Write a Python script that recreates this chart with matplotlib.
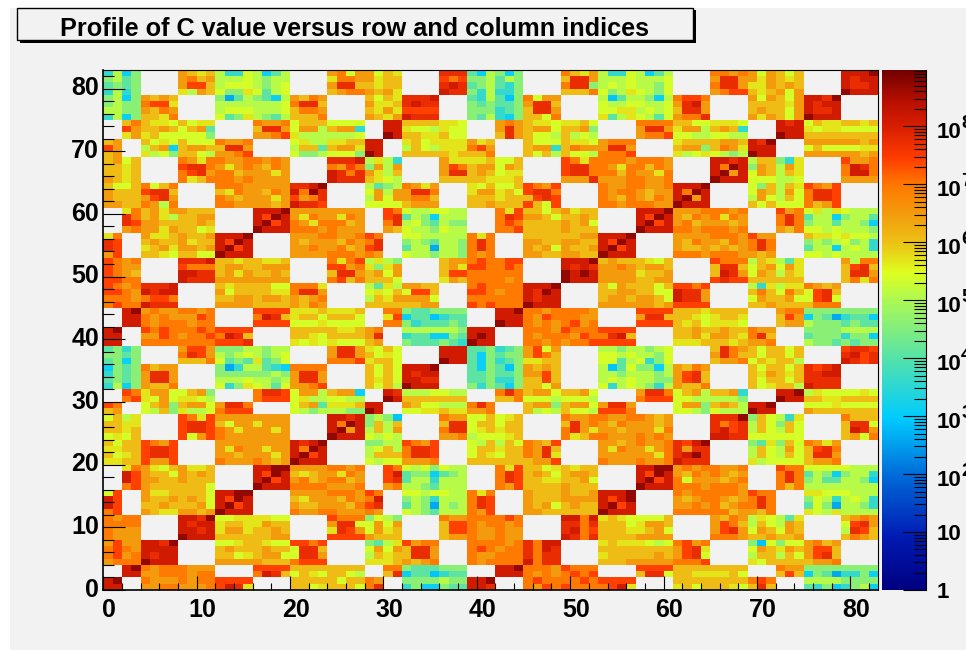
import numpy as np
import matplotlib
matplotlib.use('Agg')
import matplotlib.pyplot as plt
from matplotlib.colors import LinearSegmentedColormap, LogNorm
from matplotlib.patches import Rectangle
from matplotlib.ticker import FixedLocator, NullFormatter
from matplotlib.transforms import ScaledTranslation

plt.rcParams['font.family'] = ['Liberation Sans', 'DejaVu Sans']
plt.rcParams['font.weight'] = 'bold'

title = 'Profile of C value versus row and column indices'
n_bins = 83
z_min = 1.0
z_max = 9.5e8
x_ticks = [0, 10, 20, 30, 40, 50, 60, 70, 80]
y_ticks = [0, 10, 20, 30, 40, 50, 60, 70, 80]
bar_exponents = [2, 3, 4, 5, 6, 7, 8]

# colour levels: letter -> log10(C), '.' is an empty bin
level_chars = 'bacdefghijklmnop'
level_logs = [2.6, 2.9, 3.1, 3.6, 4.1, 4.6, 5.1, 5.4, 5.7, 6.05, 6.5, 6.95, 7.4, 7.75, 8.1, 8.7]

# one string per row, top row (82) first, spaces only separate the blocks
cell_rows = [
    'dgcf .... kjij gddh gceg .... klhk khji .... nnn ecg fcf .... ljik gddh gceg .... llkl khk jhj .... ooop',
    'fgef .... kljk gggh gfgg .... illk kijj .... mlm ffg egf .... jnnk gggh gggh .... knnk kik jij .... onoo',
    'efef .... kmmj ghhh gfgh .... knnj jijj .... non efg edf .... lnnf ghgh ggfh .... lnnk iik jkj .... onno',
    'dgdf .... igkj hffi hegh .... jkll kjki .... onn fdg ddf .... jjjl hfgi hgfh .... klmm jij khk .... pooo',
    'fgcf kjkj .... fbeg fecg kjlk .... jhji nnno ... edg eaf lhkk .... gaeg gfcg lmml .... khk jhk oonp ....',
    'fgff lmmi .... gggg gggh lnnj .... kiij nonn ... fef eef knnj .... hggh hggh knok .... jjj jik onoo ....',
    'ggff kjlk .... ghhh gggh jllk .... jiki mmmm ... fff def jnnk .... hhii ghgh jnnk .... jkj jhk onno ....',
    'dgcf jjil .... hefi gfeg jjjl .... kjik onnn ... feg dcf jjhl .... iegi hgeh klln .... kik jhk pooo ....',
    '..jl jiih jhii .... lkkl hjjj hhhh ..oo jjjj iih ... klk jiih iijh .... llll jjhh iiih ... ono hjii jjij',
    '..mk jjkj hjke .... jnnk hkkg jkkd ..oo ihhg ihh ... knk jkkh jjkf .... knnk ikkg jkjd ... ooo ihii hhhh',
    '..ik ijhh hhhf .... kklm iggg gggh ..po jjii jhh ... jnk jhhg jghg .... kllm hhgg hhgg ... poo jjjj jjjj',
    'jk.. jhih jhhh lkkl .... higg iijj oo.. ijhi iii kij ... jhhh jiih klll .... ijjj jkkj onp ... kkkk kkjk',
    'mk.. gjkc jkkj jnnk .... gjje jkki oo.. gjhg iii lmk ... jkkd jlkk knnk .... jkkf jlki ooo ... hjhh hhii',
    'jk.. ighf jjhg kklm .... hffg hhhf po.. jjjj jij jjl ... jhjg jhhg lllm .... ighi hgfg poo ... kkkk kkjk',
    'jkhj .... lkil lkkl lklk .... nnno gigd .... kii iij hhj .... mlil lllk lllk .... oono gjj fdi .... mkkl',
    'jjij .... mnnl kikl kjlk .... lkml fkgk .... kml jkk hkj .... mnnl lkil ljlk .... olpo fkj gki .... lonl',
    'jjij .... lmnk lljk kkik .... onln kigj .... knn jkj hii .... mnnl lljl kkil .... opko hkj gji .... lool',
    'kjij .... lijl llkl kkkk .... onnn jihg .... jjj jji iij .... kkkn kkkl lkkl .... pooo hhh ggh .... kkkk',
    'jhhj lhjl .... lllk kkkk nnop .... gefg lkik ... ihj hhj mlkm .... lkkl lkkl ooop .... hfj gji mlkm ....',
    'kjjj mnnj .... jilk kjlk olpn .... hkgk knnl ... ikk ijh mnnl .... lkll kjkk olpo .... hkj gkh lnnm ....',
    'kjjj kmnk .... lkjk kkik mkln .... gkhk kllj ... jjj ijj jmnm .... lkjl kjlk opko .... gkh gjh lnnm ....',
    'kkjj lkgl .... llkk kkjk onnm .... hhhh jkkk ... jjk jjj mjhm .... llkl llkk pooo .... jhj hhh ljkm ....',
    '..il jkik kjjj .... ooop kkkk kkkk ..ml hggh hgg ... lim jjhj kijj .... ooop kkkl llkl ... mkl higi hggg',
    '..nl jkig jjkk .... ompo kilk kilk ..mn egfc ggg ... lnm kkjh jjkj .... ompo kjlk lilk ... lnl eggc fgge',
    '..nm kkjj jjkj .... opmo lkil lljk ..ln ghfe gff ... lml jjjj kjkh .... opmo kljk kkjk ... lnl fgge ggfc',
    '..kl kkik jjhi .... pooo lllk lkkk ..kj hggf hgg ... llm jjjj kjjj .... pooo llkl llkl ... kjl hhgh gggf',
    'il.. kiij kjjk ooop .... kkkl lkkl ml.. hhgg ggg lil ... jjjj jjkk ooop .... kkkk lllk mkk ... jiih ihhg',
    'nm.. jkjj kijj ompo .... kjkk kjlk ln.. fgfe ggf lnl ... kkjj kkjj ompo .... kjlk kjlk lnl ... fgfg hfgd',
    'nm.. ijki kkjk opmo .... kklk kljk mn.. eggb ggf lnl ... kjkh kjjk opmo .... kjjk jkjk lnl ... eggc ghgd',
    'km.. jjih jjhh pooo .... kkkk lllk lk.. hggf ggf lkl ... kkjj kkjj pooo .... lllk lllk kjk ... hhgh gggg',
    'mlkl .... nnno jjij jiij .... lilm gigf .... jkk lml lmm .... ooop jkjj jihj .... mlll gji gei .... kgll',
    'mlkk .... mlll jkkj jkkk .... mmkl ifik .... jki mml lml .... onon kklk jkkj .... jnnj hjk hki .... jmnj',
    'mlkj .... oonn jkik jjkj .... jnnk jkhk .... jmm lll lll .... popo kkkk ijjk .... jonk hkj gji .... jnnk',
    'mmll .... onnn kkkk kkkk .... lmjl jjjh .... ikj lll lkl .... pooo kkkk jjkk .... mnmm jjj jjj .... jlil',
    'mlkl nnno .... jijj jjhh llli .... geig kkjj ... lml lll ooop .... jhkj jjhj mmlm .... gdi gii lkjk ....',
    'mmlk onoo .... khjj jjii lnnk .... hihj hmmj ... mml kll onpo .... jjkk jjhh onnk .... jlj hlj hmnj ....',
    'lllk lmml .... jjkk jkkj kjkl .... gjik kkkh ... lll lll onoo .... jkkj kkjh onnk .... hkj jkh hmnh ....',
    'lmll onnn .... kkkk jjjj kjlk .... jjjj jjkk ... mlm lll pooo .... kkkk kkjk mmmm .... jjk jjj jlll ....',
    '..op klkk llkl .... mmmm iiij iiij ..ll feef fff ... oop llkl lllk .... mmmm jjji jjjj ... kll ffff ffff',
    '..oo lklk kkml .... lonj ijjh jjjh ..im ceea dee ... ooo lkml llkk .... knnj jjih ijji ... jmk cfeb deec',
    '..oo lkll lkll .... mmmm hhhi hhhh ..ll fdee efe ... poo lklk lmkl .... mmmm jijh iiih ... jkk gfff efee',
    'op.. mlml llml mmmm .... jjjj jiij kl.. gggg ggf ooo ... lllk mlll mmmm .... jjkj jkjj lkk ... ffff gggg',
    'oo.. kkml kllm lonj .... jjih jjjj kn.. deec cfe opo ... lkll lkml lnoj .... jjki kkji lnj ... efff dffc',
    'oo.. llll llll mmmn .... ihih ihhh jk.. feee fed poo ... llkl kllm mmmm .... iiij jjij kkl ... gffe feff',
    'efdf .... kmmk fffg gfgg .... knnk ihjh .... ooo eef def kmhk .... ggfg gfgh .... jnlk jhj jhj .... mnnm',
    'ffef .... lnmk gfgh gfgh .... knnk jhih .... ooo ecf eff kmlj .... hhgh ggfh .... knlj jhj jhj .... nomn',
    'efcf .... jjjl hefe iefh .... lllm ijjh .... poo ecf def iijj .... hheg hdfh .... jkkl hji jjg .... onmn',
    'cfef ljkk .... fbdg gedc llll .... jhjh ooop ... ecf eaf kjkj .... gaeh ffcg kjlk .... jhj jhj nmno ....',
    'dfef knnk .... ffff ffgf knnk .... jhjh onoo ... eef eef kkmj .... ggfg ggfg kmnj .... jik jij nnoo ....',
    'efef knnk .... gggh ggfg knnk .... jijh oonn ... eef ddf jjmj .... ghgh ggff kmnj .... jhj jhj nnnn ....',
    'dgcf kjjl .... hdfi hgeh kklm .... jhjg pooo ... fdf ecf jjhk .... hdgh gfdg kjjl .... jhi jjg onnn ....',
    '..ml ikkh hjkf .... lnnm hkkg jkkc ..on gggh hgg ... lnl jkkh jjkh .... knnl hjkg jjkd ... oop gihh hhih',
    '..lm ihkh iihg .... lmmm higg hhgg ..po jjjj jjj ... jjl hhhg hhhg .... lmmm hhgg gggf ... poo jjii jjjj',
    'ml.. hjkf jkkh knnl .... hjke iiij oo.. kjhh ggg lnl ... jkkf jkkh knnk .... hkkf jkjg oop ... hhhi hhhh',
    'jk.. hgjf iggh lmmm .... hgfg ggff po.. hhii jii kkl ... jghg jhhg mmml .... hhgf hggg poo ... kjjj jjjj',
    'hjgi .... mlim kkkk kkkk .... oono fgfa .... lkk hhj hij .... lkkl lkkl lkjk .... nnnp fjh gdi .... ljjj',
    'jjii .... mnnm jhkk ikkk .... olpo fjgj .... jnn hjj hjj .... jnkl kjlk kkjk .... nlmn gjh fjh .... jnnh',
    'jjij .... mnnm lkik kkik .... opko gjgk .... lnn hij ijj .... lnki kkjk kkil .... nomn gjh gjh .... jonk',
    'hihj .... mhkm lkkk kkkk .... pooo hghg .... kkl ghh hij .... lijl lkkk lklk .... oonn hhh hhh .... jkhl',
    'jhjj mlkm .... kkkk kkkk onop .... ffgg mlkm ... hgj gjh lkjm .... kkjk lkkl nmop .... fei fjh lkik ....',
    'iijj mnnm .... kilk kikk olpo .... ghjg lnnm ... hjj ijj lknj .... kilk kikl nknn .... gjh gkh jmnl ....',
    'jhij mnnm .... kkjk kkik opmo .... gjjj lnnm ... hji hjj lkni .... kkkk kkil nopn .... gjh gjh jnnk ....',
    'iijj mkkm .... lkkk lkjk pooo .... hghh kkkl ... jjj jjj jkkm .... lkkk lkkl onnn .... igh hhh jkkl ....',
    '..il kihj kiij .... oopp kkkk llkl ..ml hghf hgg ... lim jjhi jijj .... oopp klkl lkkl ... mll hhhh hggg',
    '..om kjjh kjkj .... ompo jijk kilk ..mo effc efg ... lnm jkjh jkkj .... ompo kjlk lkjk ... lnl egfc fggd',
    '..om kkjj kjjj .... opmo kljk lljk ..mn eggd ggg ... lnm jjii jjkh .... opmo lhkk kjkl ... lnl fgee ggfc',
    '..lm kjjj jjjh .... pooo llll kkkl ..kl ggfe ggg ... lkm jjjj kjjj .... pooo lllk lllk ... ljl gggg gggg',
    'hm.. kiij jjjh oopp .... kkkk lllk ml.. hhgh hgg lil ... kjjj kjjk ooop .... lkll lllk mll ... iihh hggg',
    'om.. kjjk jkjh ompo .... jikk kjlk lo.. fgfd ggg lnm ... kjjj kkkk omop .... kjkl lkjk lnl ... fhgd ghgd',
    'om.. jjkj jjkh opmo .... kjjk kkjl mn.. egfb gfg lnm ... kjkh jkjj opmo .... kklk ljkl lnl ... ehfb ggfd',
    'lm.. kjii kkjk pooo .... lkkl lkkk lk.. hgfe ggg lkm ... kkjj jjjj pooo .... llll lljk kjl ... ihgi gggg',
    'lkll .... oonp hhii iihh .... mlll fhgf .... lkk lll lml .... oolo ijih hhhj .... kjlk gih gei .... jklk',
    'llll .... onoo ijji ikjj .... knnh hkhk .... jmm lkl lkl .... nnln jjjh ikkj .... kmlj gjh gkj .... hmnk',
    'lkkk .... oono ikki jjkj .... inmk hkij .... jmm lkk lkk .... nolm jjji ijkh .... kmnk hkj hkj .... gnmj',
    'lkkk .... pooo jjjj jjkk .... mmmm kjjj .... jkk lkk lkk .... onln jjjj kkkk .... lllk jjk jjk .... jlkj',
    'kmkk oonp .... hhij jihh mmlm .... fegi mkll ... lll lkl nloo .... ijii ihgh lmkl .... fah fhh kljk ....',
    'lmlk oooo .... jkjj jkjj hnnj .... hkhk jnnk ... lml kll nlon .... jjjj jjjj kmni .... hkj ikj kmmj ....',
    'lmkl onoo .... jjhi jkkh hnnk .... gjij jnnk ... lkk lll nlnn .... ijjj jjkj kmnh .... gjj gjh kmnj ....',
    'klll pooo .... kkkk kjjj lmmm .... iiij kjkl ... lkl lll olnn .... jjjk kkkk lllm .... ihj jjj jkkl ....',
    '..op lkll lkkk .... mmmm jjjj jjjj ..ll feee fff ... oop lllk mlll .... mmmm jjjj jjjj ... lkk ffff ffff',
    '..oo kkll lkll .... lonj hjih jjhg ..jn ceea dee ... ooo lklk lmlm .... jnnh jjii iijh ... jmj cfeb ddfc',
    'op.. lkkk lkll mmmm .... jjjj jhjj lk.. ffff gff oop ... lmll llml mmmm .... jjjj jjjj lml ... gggg ffff',
    'oo.. kkll kkkl moni .... jjhi jjjh ln.. dfcc fee oon ... lkml mlll lmoi .... ijhj jjih jnj ... edfc dfgc',
]

bar_nodes = [(0.0, (0.0, 0.0, 0.5)), (0.10, (0.0, 0.1, 0.7)), (0.22, (0.0, 0.42, 0.85)),
             (0.33, (0.0, 0.8, 1.0)), (0.40, (0.2, 0.85, 0.8)), (0.46, (0.38, 0.9, 0.62)),
             (0.55, (0.65, 0.97, 0.35)), (0.61, (0.87, 1.0, 0.12)), (0.67, (0.93, 0.75, 0.08)),
             (0.72, (0.95, 0.62, 0.05)), (0.78, (1.0, 0.47, 0.0)), (0.83, (1.0, 0.24, 0.0)),
             (0.89, (0.85, 0.12, 0.0)), (0.94, (0.72, 0.06, 0.0)), (1.0, (0.45, 0.0, 0.0))]


def decode(row):
    row = row.replace(' ', '')
    return [np.nan if c == '.' else 10 ** level_logs[level_chars.index(c)] for c in row]


bad = [i for i, r in enumerate(cell_rows) if len(r.replace(' ', '')) != n_bins]
if bad or len(cell_rows) != n_bins:
    raise ValueError('bad rows %s of %d' % (bad, len(cell_rows)))

z = np.ma.masked_invalid(np.array([decode(r) for r in cell_rows])[::-1])
edges = np.arange(n_bins + 1)
cmap = LinearSegmentedColormap.from_list('bar', bar_nodes, N=256)
norm = LogNorm(vmin=z_min, vmax=z_max)

W, H = 966.0, 650.0
grey = '#f2f2f2'


def box(l, t, r, b):
    return [l / W, 1 - b / H, (r - l) / W, (b - t) / H]


fig = plt.figure(figsize=(9.66, 6.5), dpi=100, facecolor='white')
fig.patches.append(Rectangle((10 / W, 0), 956 / W, 642 / H, transform=fig.transFigure,
                             facecolor=grey, edgecolor='none', zorder=-10))

#---title box with its shadow
fig.patches.append(Rectangle((20 / W, 1 - 43 / H), 676 / W, 33 / H, transform=fig.transFigure,
                             facecolor='black', edgecolor='none', zorder=1))
fig.patches.append(Rectangle((16.5 / W, 1 - 40 / H), 676.5 / W, 32 / H, transform=fig.transFigure,
                             facecolor=grey, edgecolor='black', linewidth=1, zorder=2))
fig.text(354 / W, 1 - 28.5 / H, title, ha='center', va='center', fontsize=18.2, fontweight='bold', zorder=3)

#---main histogram
ax = fig.add_axes(box(103.3, 69.7, 878.3, 590))
ax.set_facecolor(grey)
mesh = ax.pcolormesh(edges, edges, z, cmap=cmap, norm=norm, zorder=1)
ax.set_xlim(0, n_bins)
ax.set_ylim(0, n_bins)
ax.set_xticks(x_ticks)
ax.set_yticks(y_ticks)
ax.set_xticks(np.arange(0, n_bins, 2), minor=True)
ax.set_yticks(np.arange(0, n_bins, 2), minor=True)
ax.tick_params(axis='x', which='major', direction='in', length=10, width=0.8, labelsize=18, pad=6)
ax.tick_params(axis='x', which='minor', direction='in', length=5, width=0.8)
ax.tick_params(axis='y', which='major', direction='in', length=16, width=0.8, labelsize=18, pad=3)
ax.tick_params(axis='y', which='minor', direction='in', length=8, width=0.8)
ax.spines['right'].set_zorder(0.5)
ax.spines['left'].set_linewidth(1.2)
ax.spines['bottom'].set_linewidth(1.2)
#---labels sit a little right of the x ticks and above the y ticks
for lb in ax.get_xticklabels():
    lb.set_transform(lb.get_transform() + ScaledTranslation(4 / 72, 0, fig.dpi_scale_trans))
for lb in ax.get_yticklabels():
    lb.set_transform(lb.get_transform() + ScaledTranslation(0, 2 / 72, fig.dpi_scale_trans))

#---colour bar
cax = fig.add_axes(box(882, 69.7, 925.7, 590))
cb = fig.colorbar(mesh, cax=cax)
cb.outline.set_visible(False)
cax.spines['right'].set_visible(True)
cax.yaxis.set_major_locator(FixedLocator([10.0 ** k for k in range(0, 9)]))
cax.yaxis.set_minor_locator(FixedLocator([m * 10.0 ** k for k in range(0, 9) for m in range(2, 10)
                                          if m * 10.0 ** k <= z_max]))
cax.yaxis.set_major_formatter(NullFormatter())
cax.yaxis.set_minor_formatter(NullFormatter())
cax.tick_params(axis='y', which='major', direction='in', length=16.5, width=0.8, right=True)
cax.tick_params(axis='y', which='minor', direction='in', length=8.5, width=0.8, right=True)
cax.add_patch(Rectangle((1.0, 0), 0.03, 1, transform=cax.transAxes, facecolor='#808080',
                        edgecolor='none', clip_on=False))

lab = cax.get_yaxis_transform()
cax.text(1.40, 0.92, '1', transform=lab, fontsize=16, fontweight='bold', ha='center', va='center')
cax.text(1.24, 10.0 * 0.89, '10', transform=lab, fontsize=16, fontweight='bold', ha='left', va='center')
for e in bar_exponents:
    cax.text(1.24, 10.0 ** e * 0.79, '10', transform=lab, fontsize=16, fontweight='bold',
             ha='left', va='center', clip_on=False)
    cax.text(1.81, 10.0 ** e * 1.11, str(e), transform=lab, fontsize=14, fontweight='bold',
             ha='left', va='center', clip_on=False)

fig.savefig('out.png', dpi=100, facecolor='white')
